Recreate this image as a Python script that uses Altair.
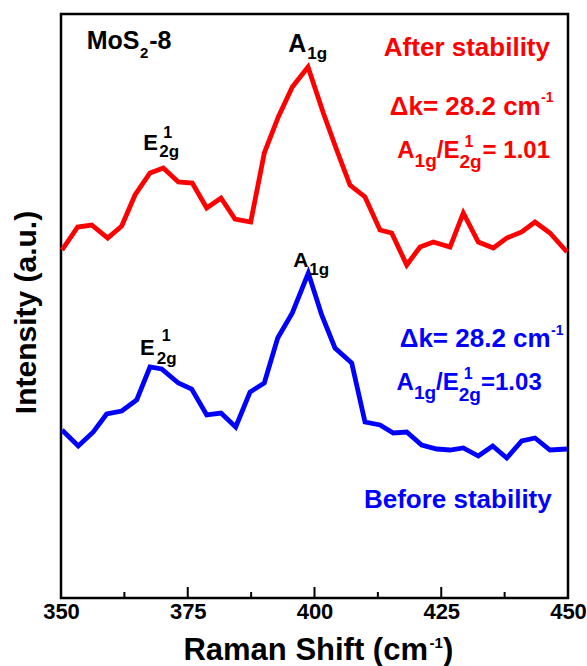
import altair as alt
import pandas as pd

# ---- series data (Raman shift in cm^-1, intensity in arbitrary units) ----
after_x = [350.2, 353.29, 356.06, 359.21, 361.97, 364.60, 367.55, 370.18, 373.14, 375.90,
           378.74, 381.56, 384.32, 387.42, 390.10, 392.86, 395.62, 398.72, 401.74, 404.38,
           407.00, 409.96, 412.92, 415.23, 418.19, 420.81, 423.43, 426.73, 429.35, 432.31,
           435.27, 437.91, 440.87, 443.49, 446.45, 449.8]
after_y = [348, 371, 373, 360, 372, 403, 425, 430, 416, 415,
           390, 400, 379, 376, 445, 481, 511, 531, 485, 448,
           413, 401, 368, 365, 333, 351, 356, 351, 385, 356,
           350, 360, 366, 376, 365, 346]

before_x = [350.2, 353.41, 356.37, 359.01, 361.97, 364.93, 367.55, 369.86, 373.14, 375.78,
            378.74, 381.56, 384.46, 387.28, 390.10, 392.74, 395.62, 398.78, 401.42, 404.04,
            407.34, 409.96, 412.92, 415.54, 418.19, 421.14, 424.10, 426.73, 429.35, 432.31,
            435.15, 437.91, 440.87, 443.49, 446.45, 449.8]
before_y = [168, 152, 166, 184, 187, 198, 231, 229, 215, 209,
            183, 185, 171, 206, 215, 260, 285, 325, 283, 250,
            235, 176, 173, 165, 166, 153, 149, 148, 150, 142,
            152, 140, 157, 160, 148, 149]

series_names = ["After stability", "Before stability"]
series_colors = ["#ff0000", "#0000ff"]

x_tick_labels = [350, 375, 400, 425, 450]
minor_ticks = [362.5, 387.5, 412.5, 437.5]

FONT = "Liberation Sans"
RED, BLUE, BLACK = "#ff0000", "#0000ff", "#000000"

df = pd.concat([
    pd.DataFrame({"shift": after_x, "intensity": after_y, "series": series_names[0]}),
    pd.DataFrame({"shift": before_x, "intensity": before_y, "series": series_names[1]}),
])

xscale = alt.Scale(domain=[350, 450], nice=False, zero=False)
yscale = alt.Scale(domain=[0, 584], nice=False, zero=False)

lines = alt.Chart(df).mark_line(strokeWidth=4.8, strokeJoin="miter").encode(
    x=alt.X("shift:Q", scale=xscale,
            axis=alt.Axis(values=x_tick_labels, title=None, ticks=False, tickSize=0,
                          domain=False, grid=False, labelFont=FONT, labelFontSize=22,
                          labelFontWeight="bold", labelColor=BLACK,
                          labelBaseline="alphabetic", labelPadding=20,
                          labelFlush=False)),
    y=alt.Y("intensity:Q", scale=yscale,
            axis=alt.Axis(labels=False, ticks=False, domain=False, grid=False,
                          title="Intensity (a.u.)", titleFont=FONT, titleFontSize=30,
                          titleFontWeight="bold", titleColor=BLACK,
                          titleBaseline="alphabetic", titleX=-26, titleY=298)),
    color=alt.Color("series:N", scale=alt.Scale(domain=series_names, range=series_colors),
                    legend=None),
    order="shift:Q",
)

# inward ticks on bottom axis (length in intensity units == pixels)
ticks_df = pd.DataFrame({
    "t": x_tick_labels + minor_ticks,
    "y0": [0] * (len(x_tick_labels) + len(minor_ticks)),
    "y1": [11] * len(x_tick_labels) + [6] * len(minor_ticks),
})
ticks = alt.Chart(ticks_df).mark_rule(color=BLACK, strokeWidth=2).encode(
    x=alt.X("t:Q", scale=xscale),
    y=alt.Y("y0:Q", scale=yscale),
    y2="y1:Q",
)

# ---- annotations (text pieces for sub/superscripts), in data coordinates ----
left_texts = [
    # text, x, y, size, color
    ("MoS", 355.07, 548.7, 25, BLACK),
    ("2", 365.58, 540, 15, BLACK),
    ("-8", 367.4, 548.7, 25, BLACK),
    # red A1g
    ("A", 394.83, 546.3, 25, BLACK),
    ("1g", 398.58, 538.7, 17, BLACK),
    # red E2g1
    ("E", 366.23, 448, 22, BLACK),
    ("1", 370.18, 460.5, 16, BLACK),
    ("2g", 369.39, 441.5, 17, BLACK),
    # red ratio
    ("A", 416.33, 439.7, 24, RED),
    ("1g", 419.74, 431.3, 19, RED),
    ("/", 424.12, 439.7, 24, RED),
    ("E", 425.44, 439.7, 24, RED),
    ("1", 429.59, 451.0, 16, RED),
    ("2g", 428.60, 430.5, 19, RED),
    ("-1", 444.67, 496.3, 14, RED),
    # blue A1g
    ("A", 395.82, 331.3, 21, BLACK),
    ("1g", 398.97, 323, 17, BLACK),
    # blue E2g1
    ("E", 365.58, 243, 22, BLACK),
    ("1", 369.86, 257.5, 16, BLACK),
    ("2g", 368.88, 234.5, 17, BLACK),
    # blue ratio
    ("A", 416.19, 208, 24, BLUE),
    ("1g", 419.61, 198.7, 19, BLUE),
    ("/", 423.98, 208, 24, BLUE),
    ("E", 425.31, 208, 24, BLUE),
    ("1", 429.45, 219.5, 16, BLUE),
    ("2g", 428.46, 197.5, 19, BLUE),
    ("-1", 446.65, 263, 14, BLUE),
    # x-axis title superscript and closing parenthesis
    ("-1", 422.69, -50, 15, BLACK),
    (")", 425.35, -62, 31, BLACK),
]
right_texts = [
    ("After stability", 446.45, 542, 26, RED),
    ("\u0394k= 28.2 cm", 444.62, 483, 26, RED),
    ("= 1.01", 446.45, 439.7, 24, RED),
    ("\u0394k= 28.2 cm", 446.58, 251.3, 26, BLUE),
    ("=1.03", 444.82, 208, 24, BLUE),
    ("Before stability", 446.79, 89.7, 26, BLUE),
    ("Raman Shift (cm", 422.39, -62, 31, BLACK),
]
cols = ["label", "x", "y", "size", "color"]
left_df = pd.DataFrame(left_texts, columns=cols)
right_df = pd.DataFrame(right_texts, columns=cols)


def text_layer(data, align):
    return alt.Chart(data).mark_text(
        align=align, baseline="alphabetic", font=FONT, fontWeight="bold"
    ).encode(
        x=alt.X("x:Q", scale=xscale),
        y=alt.Y("y:Q", scale=yscale),
        text="label:N",
        size=alt.Size("size:Q", scale=None, legend=None),
        color=alt.Color("color:N", scale=None, legend=None),
    )


chart = alt.layer(
    lines, ticks, text_layer(left_df, "left"), text_layer(right_df, "right")
).resolve_scale(color="independent").properties(
    width=507,
    height=584,
    padding={"left": 61, "top": 14, "right": 19, "bottom": 68},
    autosize=alt.AutoSizeParams(type="none"),
    background="white",
).configure_view(
    stroke=BLACK, strokeWidth=2.5
)

chart.save("out.html", embed_options={"renderer": "svg", "actions": False})
